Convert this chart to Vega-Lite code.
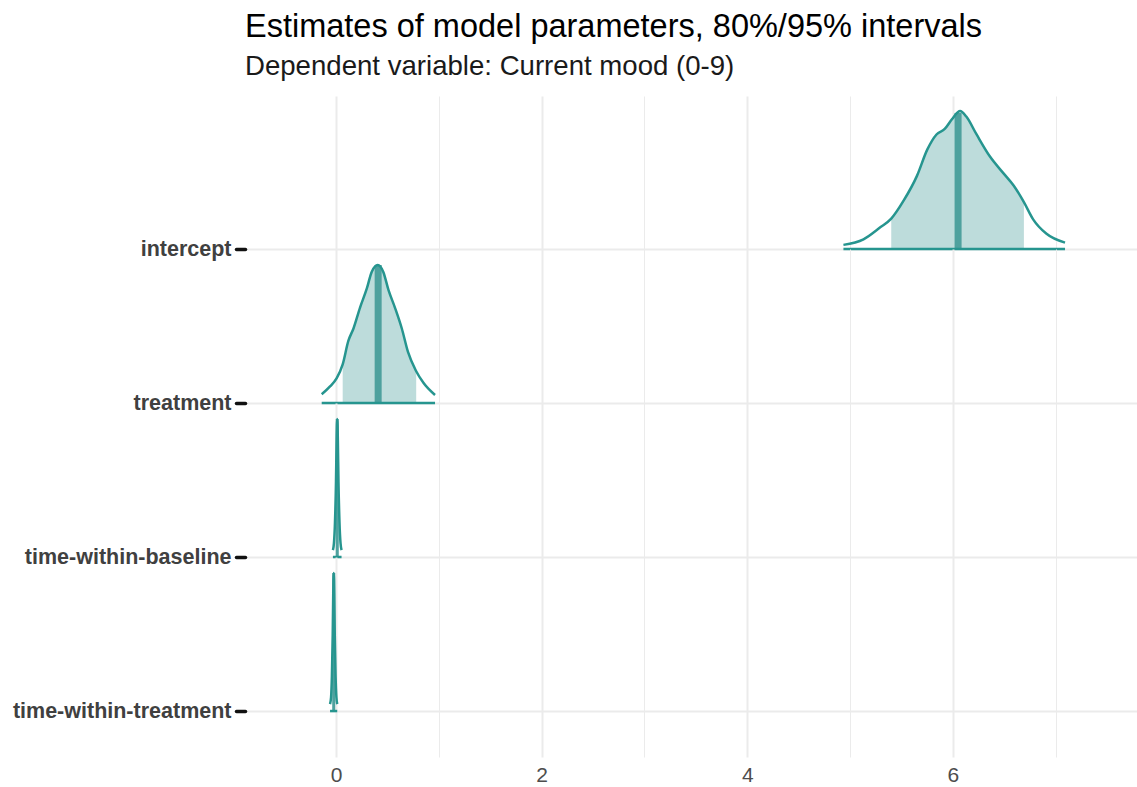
{
  "$schema": "https://vega.github.io/schema/vega-lite/v6.json",
  "background": "white",
  "padding": {"left": 0, "top": 10, "right": 0, "bottom": 0},
  "bounds": "flush",
  "title": {
    "text": "Estimates of model parameters, 80%/95% intervals",
    "subtitle": "Dependent variable: Current mood (0-9)",
    "anchor": "start",
    "dx": 245,
    "font": "Liberation Sans",
    "fontSize": 32.5,
    "fontWeight": "normal",
    "color": "#000000",
    "subtitleFont": "Liberation Sans",
    "subtitleFontSize": 27.6,
    "subtitleColor": "#1a1a1a",
    "subtitlePadding": 10,
    "offset": 15
  },
  "spacing": 0,
  "datasets": {
    "dens": [
      {"param": "intercept", "x": 4.935, "density": 0.03, "inner": false},
      {"param": "intercept", "x": 5.13, "density": 0.07, "inner": false},
      {"param": "intercept", "x": 5.29, "density": 0.155, "inner": false},
      {"param": "intercept", "x": 5.40, "density": 0.22, "inner": true},
      {"param": "intercept", "x": 5.52, "density": 0.35, "inner": true},
      {"param": "intercept", "x": 5.65, "density": 0.53, "inner": true},
      {"param": "intercept", "x": 5.75, "density": 0.72, "inner": true},
      {"param": "intercept", "x": 5.84, "density": 0.83, "inner": true},
      {"param": "intercept", "x": 5.92, "density": 0.87, "inner": true},
      {"param": "intercept", "x": 5.99, "density": 0.94, "inner": true},
      {"param": "intercept", "x": 6.07, "density": 1.0, "inner": true},
      {"param": "intercept", "x": 6.13, "density": 0.96, "inner": true},
      {"param": "intercept", "x": 6.23, "density": 0.83, "inner": true},
      {"param": "intercept", "x": 6.36, "density": 0.67, "inner": true},
      {"param": "intercept", "x": 6.49, "density": 0.55, "inner": true},
      {"param": "intercept", "x": 6.59, "density": 0.46, "inner": true},
      {"param": "intercept", "x": 6.69, "density": 0.34, "inner": true},
      {"param": "intercept", "x": 6.78, "density": 0.215, "inner": false},
      {"param": "intercept", "x": 6.91, "density": 0.11, "inner": false},
      {"param": "intercept", "x": 7.09, "density": 0.046, "inner": false},
      {"param": "treatment", "x": -0.139, "density": 0.063, "inner": false},
      {"param": "treatment", "x": -0.058, "density": 0.12, "inner": false},
      {"param": "treatment", "x": 0.007, "density": 0.18, "inner": false},
      {"param": "treatment", "x": 0.065, "density": 0.28, "inner": true},
      {"param": "treatment", "x": 0.12, "density": 0.45, "inner": true},
      {"param": "treatment", "x": 0.17, "density": 0.54, "inner": true},
      {"param": "treatment", "x": 0.233, "density": 0.69, "inner": true},
      {"param": "treatment", "x": 0.30, "density": 0.83, "inner": true},
      {"param": "treatment", "x": 0.347, "density": 0.95, "inner": true},
      {"param": "treatment", "x": 0.406, "density": 1.0, "inner": true},
      {"param": "treatment", "x": 0.46, "density": 0.95, "inner": true},
      {"param": "treatment", "x": 0.51, "density": 0.82, "inner": true},
      {"param": "treatment", "x": 0.574, "density": 0.69, "inner": true},
      {"param": "treatment", "x": 0.64, "density": 0.54, "inner": true},
      {"param": "treatment", "x": 0.70, "density": 0.37, "inner": true},
      {"param": "treatment", "x": 0.78, "density": 0.23, "inner": true},
      {"param": "treatment", "x": 0.85, "density": 0.146, "inner": false},
      {"param": "treatment", "x": 0.963, "density": 0.058, "inner": false},
      {"param": "time-within-baseline", "x": -0.030, "density": 0.05, "inner": false},
      {"param": "time-within-baseline", "x": -0.020, "density": 0.10, "inner": false},
      {"param": "time-within-baseline", "x": -0.010, "density": 0.25, "inner": false},
      {"param": "time-within-baseline", "x": 0.000, "density": 0.55, "inner": true},
      {"param": "time-within-baseline", "x": 0.006, "density": 0.85, "inner": true},
      {"param": "time-within-baseline", "x": 0.012, "density": 1.0, "inner": true},
      {"param": "time-within-baseline", "x": 0.018, "density": 0.85, "inner": true},
      {"param": "time-within-baseline", "x": 0.024, "density": 0.55, "inner": true},
      {"param": "time-within-baseline", "x": 0.034, "density": 0.25, "inner": false},
      {"param": "time-within-baseline", "x": 0.044, "density": 0.10, "inner": false},
      {"param": "time-within-baseline", "x": 0.054, "density": 0.05, "inner": false},
      {"param": "time-within-treatment", "x": -0.058, "density": 0.05, "inner": false},
      {"param": "time-within-treatment", "x": -0.048, "density": 0.10, "inner": false},
      {"param": "time-within-treatment", "x": -0.040, "density": 0.25, "inner": false},
      {"param": "time-within-treatment", "x": -0.032, "density": 0.55, "inner": true},
      {"param": "time-within-treatment", "x": -0.027, "density": 0.85, "inner": true},
      {"param": "time-within-treatment", "x": -0.022, "density": 1.0, "inner": true},
      {"param": "time-within-treatment", "x": -0.017, "density": 0.85, "inner": true},
      {"param": "time-within-treatment", "x": -0.012, "density": 0.55, "inner": true},
      {"param": "time-within-treatment", "x": -0.004, "density": 0.25, "inner": false},
      {"param": "time-within-treatment", "x": 0.004, "density": 0.10, "inner": false},
      {"param": "time-within-treatment", "x": 0.012, "density": 0.05, "inner": false}
    ],
    "intervals": [
      {"param": "intercept", "ll": 4.935, "l": 5.40, "m": 6.05, "m_density": 0.985, "h": 6.69, "hh": 7.09},
      {"param": "treatment", "ll": -0.139, "l": 0.065, "m": 0.41, "m_density": 1.0, "h": 0.78, "hh": 0.963},
      {"param": "time-within-baseline", "ll": -0.030, "l": 0.0, "m": 0.012, "m_density": 1.0, "h": 0.024, "hh": 0.054},
      {"param": "time-within-treatment", "ll": -0.058, "l": -0.032, "m": -0.022, "m_density": 1.0, "h": -0.012, "hh": 0.012}
    ]
  },
  "vconcat": [
    {
      "width": 892, "height": 153,
      "layer": [
        {"data": {"name": "dens"}, "transform": [{"filter": "datum.param === 'intercept' && datum.inner"}],
         "mark": {"type": "area", "interpolate": "monotone", "color": "#bddcdb", "opacity": 1},
         "encoding": {
           "x": {"field": "x", "type": "quantitative", "title": null, "scale": {"domain": [-0.885, 7.79], "nice": false, "zero": false},
                 "axis": {"values": [0, 1, 2, 3, 4, 5, 6, 7], "labels": false, "ticks": false, "domain": false, "grid": true, "gridColor": "#ebebeb", "gridWidth": {"condition": {"test": "datum.value % 2 === 0", "value": 2}, "value": 1}}},
           "y": {"field": "density", "type": "quantitative", "title": null, "stack": null, "scale": {"domain": [0, 1.109], "nice": false, "zero": false},
                 "axis": {"values": [0], "labelExpr": "'intercept'", "domain": false, "grid": true, "gridColor": "#ebebeb", "gridWidth": 2, "tickColor": "#111111", "tickWidth": 3.5, "tickSize": 9, "tickCap": "round", "labelFont": "Liberation Sans", "labelFontWeight": "bold", "labelFontSize": 21.5, "labelColor": "#404040", "labelPadding": 5, "labelLimit": 0, "minExtent": 245, "maxExtent": 245}}
         }},
        {"data": {"name": "intervals"}, "transform": [{"filter": "datum.param === 'intercept'"}],
         "mark": {"type": "rule", "color": "#4ea19e", "strokeWidth": 7},
         "encoding": {
           "x": {"field": "m", "type": "quantitative", "title": null, "scale": {"domain": [-0.885, 7.79], "nice": false, "zero": false}},
           "y": {"field": "m_density", "type": "quantitative", "title": null, "scale": {"domain": [0, 1.109], "nice": false, "zero": false}},
           "y2": {"datum": 0}
         }},
        {"data": {"name": "dens"}, "transform": [{"filter": "datum.param === 'intercept'"}],
         "mark": {"type": "line", "interpolate": "monotone", "color": "#26958f", "strokeWidth": 2.5},
         "encoding": {
           "x": {"field": "x", "type": "quantitative", "title": null, "scale": {"domain": [-0.885, 7.79], "nice": false, "zero": false}},
           "y": {"field": "density", "type": "quantitative", "title": null, "scale": {"domain": [0, 1.109], "nice": false, "zero": false}}
         }},
        {"data": {"name": "intervals"}, "transform": [{"filter": "datum.param === 'intercept'"}],
         "mark": {"type": "rule", "color": "#26958f", "strokeWidth": 2.5},
         "encoding": {
           "x": {"field": "ll", "type": "quantitative", "title": null, "scale": {"domain": [-0.885, 7.79], "nice": false, "zero": false}},
           "x2": {"field": "hh"},
           "y": {"datum": 0, "type": "quantitative", "scale": {"domain": [0, 1.109], "nice": false, "zero": false}}
         }}
      ]
    },
    {
      "width": 892, "height": 154,
      "layer": [
        {"data": {"name": "dens"}, "transform": [{"filter": "datum.param === 'treatment' && datum.inner"}],
         "mark": {"type": "area", "interpolate": "monotone", "color": "#bddcdb", "opacity": 1},
         "encoding": {
           "x": {"field": "x", "type": "quantitative", "title": null, "scale": {"domain": [-0.885, 7.79], "nice": false, "zero": false},
                 "axis": {"values": [0, 1, 2, 3, 4, 5, 6, 7], "labels": false, "ticks": false, "domain": false, "grid": true, "gridColor": "#ebebeb", "gridWidth": {"condition": {"test": "datum.value % 2 === 0", "value": 2}, "value": 1}}},
           "y": {"field": "density", "type": "quantitative", "title": null, "stack": null, "scale": {"domain": [0, 1.116], "nice": false, "zero": false},
                 "axis": {"values": [0], "labelExpr": "'treatment'", "domain": false, "grid": true, "gridColor": "#ebebeb", "gridWidth": 2, "tickColor": "#111111", "tickWidth": 3.5, "tickSize": 9, "tickCap": "round", "labelFont": "Liberation Sans", "labelFontWeight": "bold", "labelFontSize": 21.5, "labelColor": "#404040", "labelPadding": 5, "labelLimit": 0, "minExtent": 245, "maxExtent": 245}}
         }},
        {"data": {"name": "intervals"}, "transform": [{"filter": "datum.param === 'treatment'"}],
         "mark": {"type": "rule", "color": "#4ea19e", "strokeWidth": 7},
         "encoding": {
           "x": {"field": "m", "type": "quantitative", "title": null, "scale": {"domain": [-0.885, 7.79], "nice": false, "zero": false}},
           "y": {"field": "m_density", "type": "quantitative", "title": null, "scale": {"domain": [0, 1.116], "nice": false, "zero": false}},
           "y2": {"datum": 0}
         }},
        {"data": {"name": "dens"}, "transform": [{"filter": "datum.param === 'treatment'"}],
         "mark": {"type": "line", "interpolate": "monotone", "color": "#26958f", "strokeWidth": 2.5},
         "encoding": {
           "x": {"field": "x", "type": "quantitative", "title": null, "scale": {"domain": [-0.885, 7.79], "nice": false, "zero": false}},
           "y": {"field": "density", "type": "quantitative", "title": null, "scale": {"domain": [0, 1.116], "nice": false, "zero": false}}
         }},
        {"data": {"name": "intervals"}, "transform": [{"filter": "datum.param === 'treatment'"}],
         "mark": {"type": "rule", "color": "#26958f", "strokeWidth": 2.5},
         "encoding": {
           "x": {"field": "ll", "type": "quantitative", "title": null, "scale": {"domain": [-0.885, 7.79], "nice": false, "zero": false}},
           "x2": {"field": "hh"},
           "y": {"datum": 0, "type": "quantitative", "scale": {"domain": [0, 1.116], "nice": false, "zero": false}}
         }}
      ]
    },
    {
      "width": 892, "height": 154,
      "layer": [
        {"data": {"name": "dens"}, "transform": [{"filter": "datum.param === 'time-within-baseline' && datum.inner"}],
         "mark": {"type": "area", "interpolate": "monotone", "color": "#bddcdb", "opacity": 1},
         "encoding": {
           "x": {"field": "x", "type": "quantitative", "title": null, "scale": {"domain": [-0.885, 7.79], "nice": false, "zero": false},
                 "axis": {"values": [0, 1, 2, 3, 4, 5, 6, 7], "labels": false, "ticks": false, "domain": false, "grid": true, "gridColor": "#ebebeb", "gridWidth": {"condition": {"test": "datum.value % 2 === 0", "value": 2}, "value": 1}}},
           "y": {"field": "density", "type": "quantitative", "title": null, "stack": null, "scale": {"domain": [0, 1.116], "nice": false, "zero": false},
                 "axis": {"values": [0], "labelExpr": "'time-within-baseline'", "domain": false, "grid": true, "gridColor": "#ebebeb", "gridWidth": 2, "tickColor": "#111111", "tickWidth": 3.5, "tickSize": 9, "tickCap": "round", "labelFont": "Liberation Sans", "labelFontWeight": "bold", "labelFontSize": 21.5, "labelColor": "#404040", "labelPadding": 5, "labelLimit": 0, "minExtent": 245, "maxExtent": 245}}
         }},
        {"data": {"name": "intervals"}, "transform": [{"filter": "datum.param === 'time-within-baseline'"}],
         "mark": {"type": "rule", "color": "#4ea19e", "strokeWidth": 3},
         "encoding": {
           "x": {"field": "m", "type": "quantitative", "title": null, "scale": {"domain": [-0.885, 7.79], "nice": false, "zero": false}},
           "y": {"field": "m_density", "type": "quantitative", "title": null, "scale": {"domain": [0, 1.116], "nice": false, "zero": false}},
           "y2": {"datum": 0}
         }},
        {"data": {"name": "dens"}, "transform": [{"filter": "datum.param === 'time-within-baseline'"}],
         "mark": {"type": "line", "interpolate": "monotone", "color": "#26958f", "strokeWidth": 2.5},
         "encoding": {
           "x": {"field": "x", "type": "quantitative", "title": null, "scale": {"domain": [-0.885, 7.79], "nice": false, "zero": false}},
           "y": {"field": "density", "type": "quantitative", "title": null, "scale": {"domain": [0, 1.116], "nice": false, "zero": false}}
         }},
        {"data": {"name": "intervals"}, "transform": [{"filter": "datum.param === 'time-within-baseline'"}],
         "mark": {"type": "rule", "color": "#26958f", "strokeWidth": 2.5},
         "encoding": {
           "x": {"field": "ll", "type": "quantitative", "title": null, "scale": {"domain": [-0.885, 7.79], "nice": false, "zero": false}},
           "x2": {"field": "hh"},
           "y": {"datum": 0, "type": "quantitative", "scale": {"domain": [0, 1.116], "nice": false, "zero": false}}
         }}
      ]
    },
    {
      "width": 892, "height": 200,
      "layer": [
        {"data": {"name": "dens"}, "transform": [{"filter": "datum.param === 'time-within-treatment' && datum.inner"}],
         "mark": {"type": "area", "interpolate": "monotone", "color": "#bddcdb", "opacity": 1},
         "encoding": {
           "x": {"field": "x", "type": "quantitative", "title": null, "scale": {"domain": [-0.885, 7.79], "nice": false, "zero": false},
                 "axis": {"values": [0, 1, 2, 3, 4, 5, 6, 7], "format": "d", "labelExpr": "datum.value % 2 === 0 ? datum.label : ''", "labelFont": "Liberation Sans", "labelFontSize": 21, "labelColor": "#4d4d4d", "labelPadding": 7, "ticks": false, "domain": false, "grid": true, "gridColor": "#ebebeb", "gridWidth": {"condition": {"test": "datum.value % 2 === 0", "value": 2}, "value": 1}}},
           "y": {"field": "density", "type": "quantitative", "title": null, "stack": null, "scale": {"domain": [-0.333, 1.116], "nice": false, "zero": false},
                 "axis": {"values": [0], "labelExpr": "'time-within-treatment'", "domain": false, "grid": true, "gridColor": "#ebebeb", "gridWidth": 2, "tickColor": "#111111", "tickWidth": 3.5, "tickSize": 9, "tickCap": "round", "labelFont": "Liberation Sans", "labelFontWeight": "bold", "labelFontSize": 21.5, "labelColor": "#404040", "labelPadding": 5, "labelLimit": 0, "minExtent": 245, "maxExtent": 245}}
         }},
        {"data": {"name": "intervals"}, "transform": [{"filter": "datum.param === 'time-within-treatment'"}],
         "mark": {"type": "rule", "color": "#4ea19e", "strokeWidth": 3},
         "encoding": {
           "x": {"field": "m", "type": "quantitative", "title": null, "scale": {"domain": [-0.885, 7.79], "nice": false, "zero": false}},
           "y": {"field": "m_density", "type": "quantitative", "title": null, "scale": {"domain": [-0.333, 1.116], "nice": false, "zero": false}},
           "y2": {"datum": 0}
         }},
        {"data": {"name": "dens"}, "transform": [{"filter": "datum.param === 'time-within-treatment'"}],
         "mark": {"type": "line", "interpolate": "monotone", "color": "#26958f", "strokeWidth": 2.5},
         "encoding": {
           "x": {"field": "x", "type": "quantitative", "title": null, "scale": {"domain": [-0.885, 7.79], "nice": false, "zero": false}},
           "y": {"field": "density", "type": "quantitative", "title": null, "scale": {"domain": [-0.333, 1.116], "nice": false, "zero": false}}
         }},
        {"data": {"name": "intervals"}, "transform": [{"filter": "datum.param === 'time-within-treatment'"}],
         "mark": {"type": "rule", "color": "#26958f", "strokeWidth": 2.5},
         "encoding": {
           "x": {"field": "ll", "type": "quantitative", "title": null, "scale": {"domain": [-0.885, 7.79], "nice": false, "zero": false}},
           "x2": {"field": "hh"},
           "y": {"datum": 0, "type": "quantitative", "scale": {"domain": [-0.333, 1.116], "nice": false, "zero": false}}
         }}
      ]
    }
  ],
  "config": {
    "view": {"stroke": null},
    "concat": {"spacing": 0}
  }
}
